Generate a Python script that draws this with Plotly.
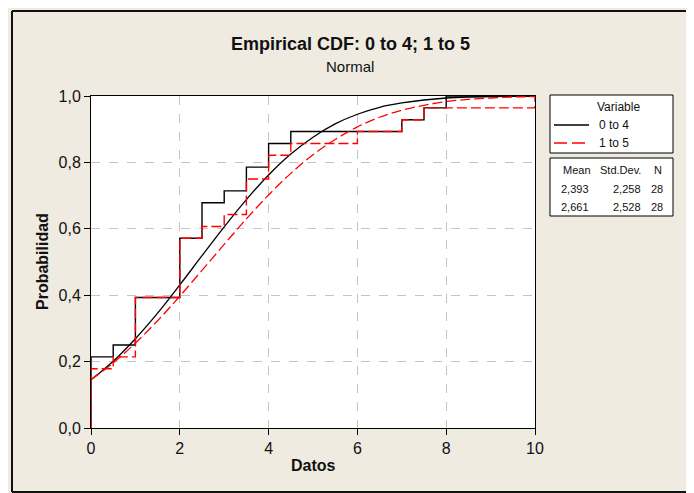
import plotly.graph_objects as go

# sample values (N = 28 each)
datos_0a4 = [0, 0, 0, 0, 0, 0, 0.5, 1, 1, 1, 1, 2, 2, 2, 2, 2,
             2.5, 2.5, 2.5, 3, 3.5, 3.5, 4, 4, 4.5, 7, 7.5, 8]
datos_1a5 = [0, 0, 0, 0, 0, 0.5, 1, 1, 1, 1, 1, 2, 2, 2, 2, 2,
             2.5, 3, 3.5, 3.5, 3.5, 4, 4, 4.5, 6, 7, 7.5, 10]

# fitted normal curves
curva_x = [0, 0.5, 1, 1.5, 2, 2.5, 3, 3.5, 4, 4.5, 5,
           5.5, 6, 6.5, 7, 7.5, 8, 8.5, 9, 9.5, 10]
curva_0a4 = [0.145, 0.201, 0.269, 0.346, 0.431, 0.519, 0.606, 0.688, 0.762, 0.825, 0.876,
             0.916, 0.945, 0.966, 0.979, 0.988, 0.994, 0.997, 0.998, 0.999, 1.0]
curva_1a5 = [0.146, 0.196, 0.256, 0.323, 0.397, 0.475, 0.553, 0.630, 0.702, 0.767, 0.823,
             0.869, 0.907, 0.936, 0.957, 0.972, 0.983, 0.990, 0.994, 0.997, 0.998]

variables = ["0 to 4", "1 to 5"]
medias = [2.393, 2.661]
desv = [2.258, 2.528]
ns = [28, 28]

# page body has an 8px margin, so the figure is a bit smaller than the window
OFF = 8
W, H = 694 - OFF, 493 - OFF
# plot area in screen pixels
L, R, T, B = 91, 535, 96, 428
BG = "#EFEBE1"
FONT = "Liberation Sans, Arial, sans-serif"


def px(x):
    return (x - L) / (R - L)


def py(y):
    return (B - y) / (B - T)


def ecdf(vals, xmax):
    vals = sorted(vals)
    n = len(vals)
    xs, ys = [0], [0]
    for i, v in enumerate(vals):
        if i + 1 < n and vals[i + 1] == v:
            continue
        xs.append(v)
        ys.append((i + 1) / n)
    xs.append(xmax)
    ys.append(ys[-1])
    return xs, ys


def coma(v, d=3):
    return f"{v:.{d}f}".replace(".", ",")


fig = go.Figure()

x0, y0 = ecdf(datos_0a4, 10)
x1, y1 = ecdf(datos_1a5, 10)

fig.add_trace(go.Scatter(x=x0, y=y0, mode="lines", line_shape="hv",
                         line=dict(color="black", width=1.4), showlegend=False))
fig.add_trace(go.Scatter(x=curva_x, y=curva_0a4, mode="lines", line_shape="spline",
                         line=dict(color="black", width=1.3), showlegend=False))
fig.add_trace(go.Scatter(x=x1, y=y1, mode="lines", line_shape="hv",
                         line=dict(color="#FF0000", width=1.4, dash="10px,4px"), showlegend=False))
fig.add_trace(go.Scatter(x=curva_x, y=curva_1a5, mode="lines", line_shape="spline",
                         line=dict(color="#FF0000", width=1.3, dash="10px,4px"), showlegend=False))

ejes = dict(showline=True, linecolor="black", linewidth=1, mirror=True,
            ticks="outside", ticklen=6, tickcolor="black",
            showgrid=True, gridcolor="#C4C4C4", gridwidth=1, griddash="dash",
            zeroline=False, tickfont=dict(family=FONT, size=16, color="#111"))
fig.update_xaxes(range=[0, 10], tickvals=[0, 2, 4, 6, 8, 10], **ejes)
fig.update_yaxes(range=[0, 1], tickvals=[0, 0.2, 0.4, 0.6, 0.8, 1.0], tickformat=".1f", **ejes)

anns = [
    dict(x=px(350), y=py(44), text="<b>Empirical CDF: 0 to 4; 1 to 5</b>", font=dict(size=18)),
    dict(x=px(350), y=py(66), text="Normal", font=dict(size=15)),
    dict(x=0.5, y=py(465), text="<b>Datos</b>", font=dict(size=16)),
    dict(x=px(42), y=0.5, text="<b>Probabilidad</b>", font=dict(size=16), textangle=-90),
    dict(x=px(618), y=py(107), text="Variable", font=dict(size=12)),
    dict(x=px(597), y=py(125), text=variables[0], font=dict(size=12), xanchor="left"),
    dict(x=px(597), y=py(143), text=variables[1], font=dict(size=12), xanchor="left"),
    dict(x=px(577), y=py(170), text="Mean", font=dict(size=11)),
    dict(x=px(643), y=py(170), text="Std.Dev.", font=dict(size=11), xanchor="right"),
    dict(x=px(664), y=py(170), text="N", font=dict(size=11), xanchor="right"),
]
for i, yy in enumerate([189, 207]):
    anns.append(dict(x=px(591), y=py(yy), text=coma(medias[i]), font=dict(size=11), xanchor="right"))
    anns.append(dict(x=px(643), y=py(yy), text=coma(desv[i]), font=dict(size=11), xanchor="right"))
    anns.append(dict(x=px(665), y=py(yy), text=str(ns[i]), font=dict(size=11), xanchor="right"))
for a in anns:
    a.setdefault("xanchor", "center")
    a.update(xref="paper", yref="paper", yanchor="middle", showarrow=False)
    a["font"].update(family=FONT, color="#111")

shapes = [
    # outer frame, drawn as four lines
    dict(type="line", x0=px(12), x1=px(12), y0=py(492), y1=py(11)),
    dict(type="line", x0=px(689), x1=px(689), y0=py(492), y1=py(11)),
    dict(type="line", x0=px(12), x1=px(689), y0=py(11), y1=py(11)),
    dict(type="line", x0=px(12), x1=px(689), y0=py(492), y1=py(492)),
]
for s in shapes:
    s["line"] = dict(color="#111", width=2)
shapes += [
    # legend boxes
    dict(type="rect", x0=px(550), x1=px(673), y0=py(153), y1=py(95),
         line=dict(color="black", width=1), fillcolor="white"),
    dict(type="rect", x0=px(550), x1=px(673), y0=py(216), y1=py(158),
         line=dict(color="black", width=1), fillcolor="white"),
    dict(type="line", x0=px(554), x1=px(589), y0=py(125), y1=py(125),
         line=dict(color="black", width=1.4)),
    dict(type="line", x0=px(554), x1=px(589), y0=py(143), y1=py(143),
         line=dict(color="#FF0000", width=1.4, dash="13px,5px")),
]
for s in shapes:
    s.update(xref="paper", yref="paper", layer="above")

fig.update_layout(
    width=W, height=H,
    margin=dict(l=L - OFF, r=694 - R, t=T - OFF, b=493 - B),
    paper_bgcolor=BG, plot_bgcolor="white",
    separators=",.",
    annotations=anns, shapes=shapes,
    font=dict(family=FONT),
)

fig.write_html("out.html")
